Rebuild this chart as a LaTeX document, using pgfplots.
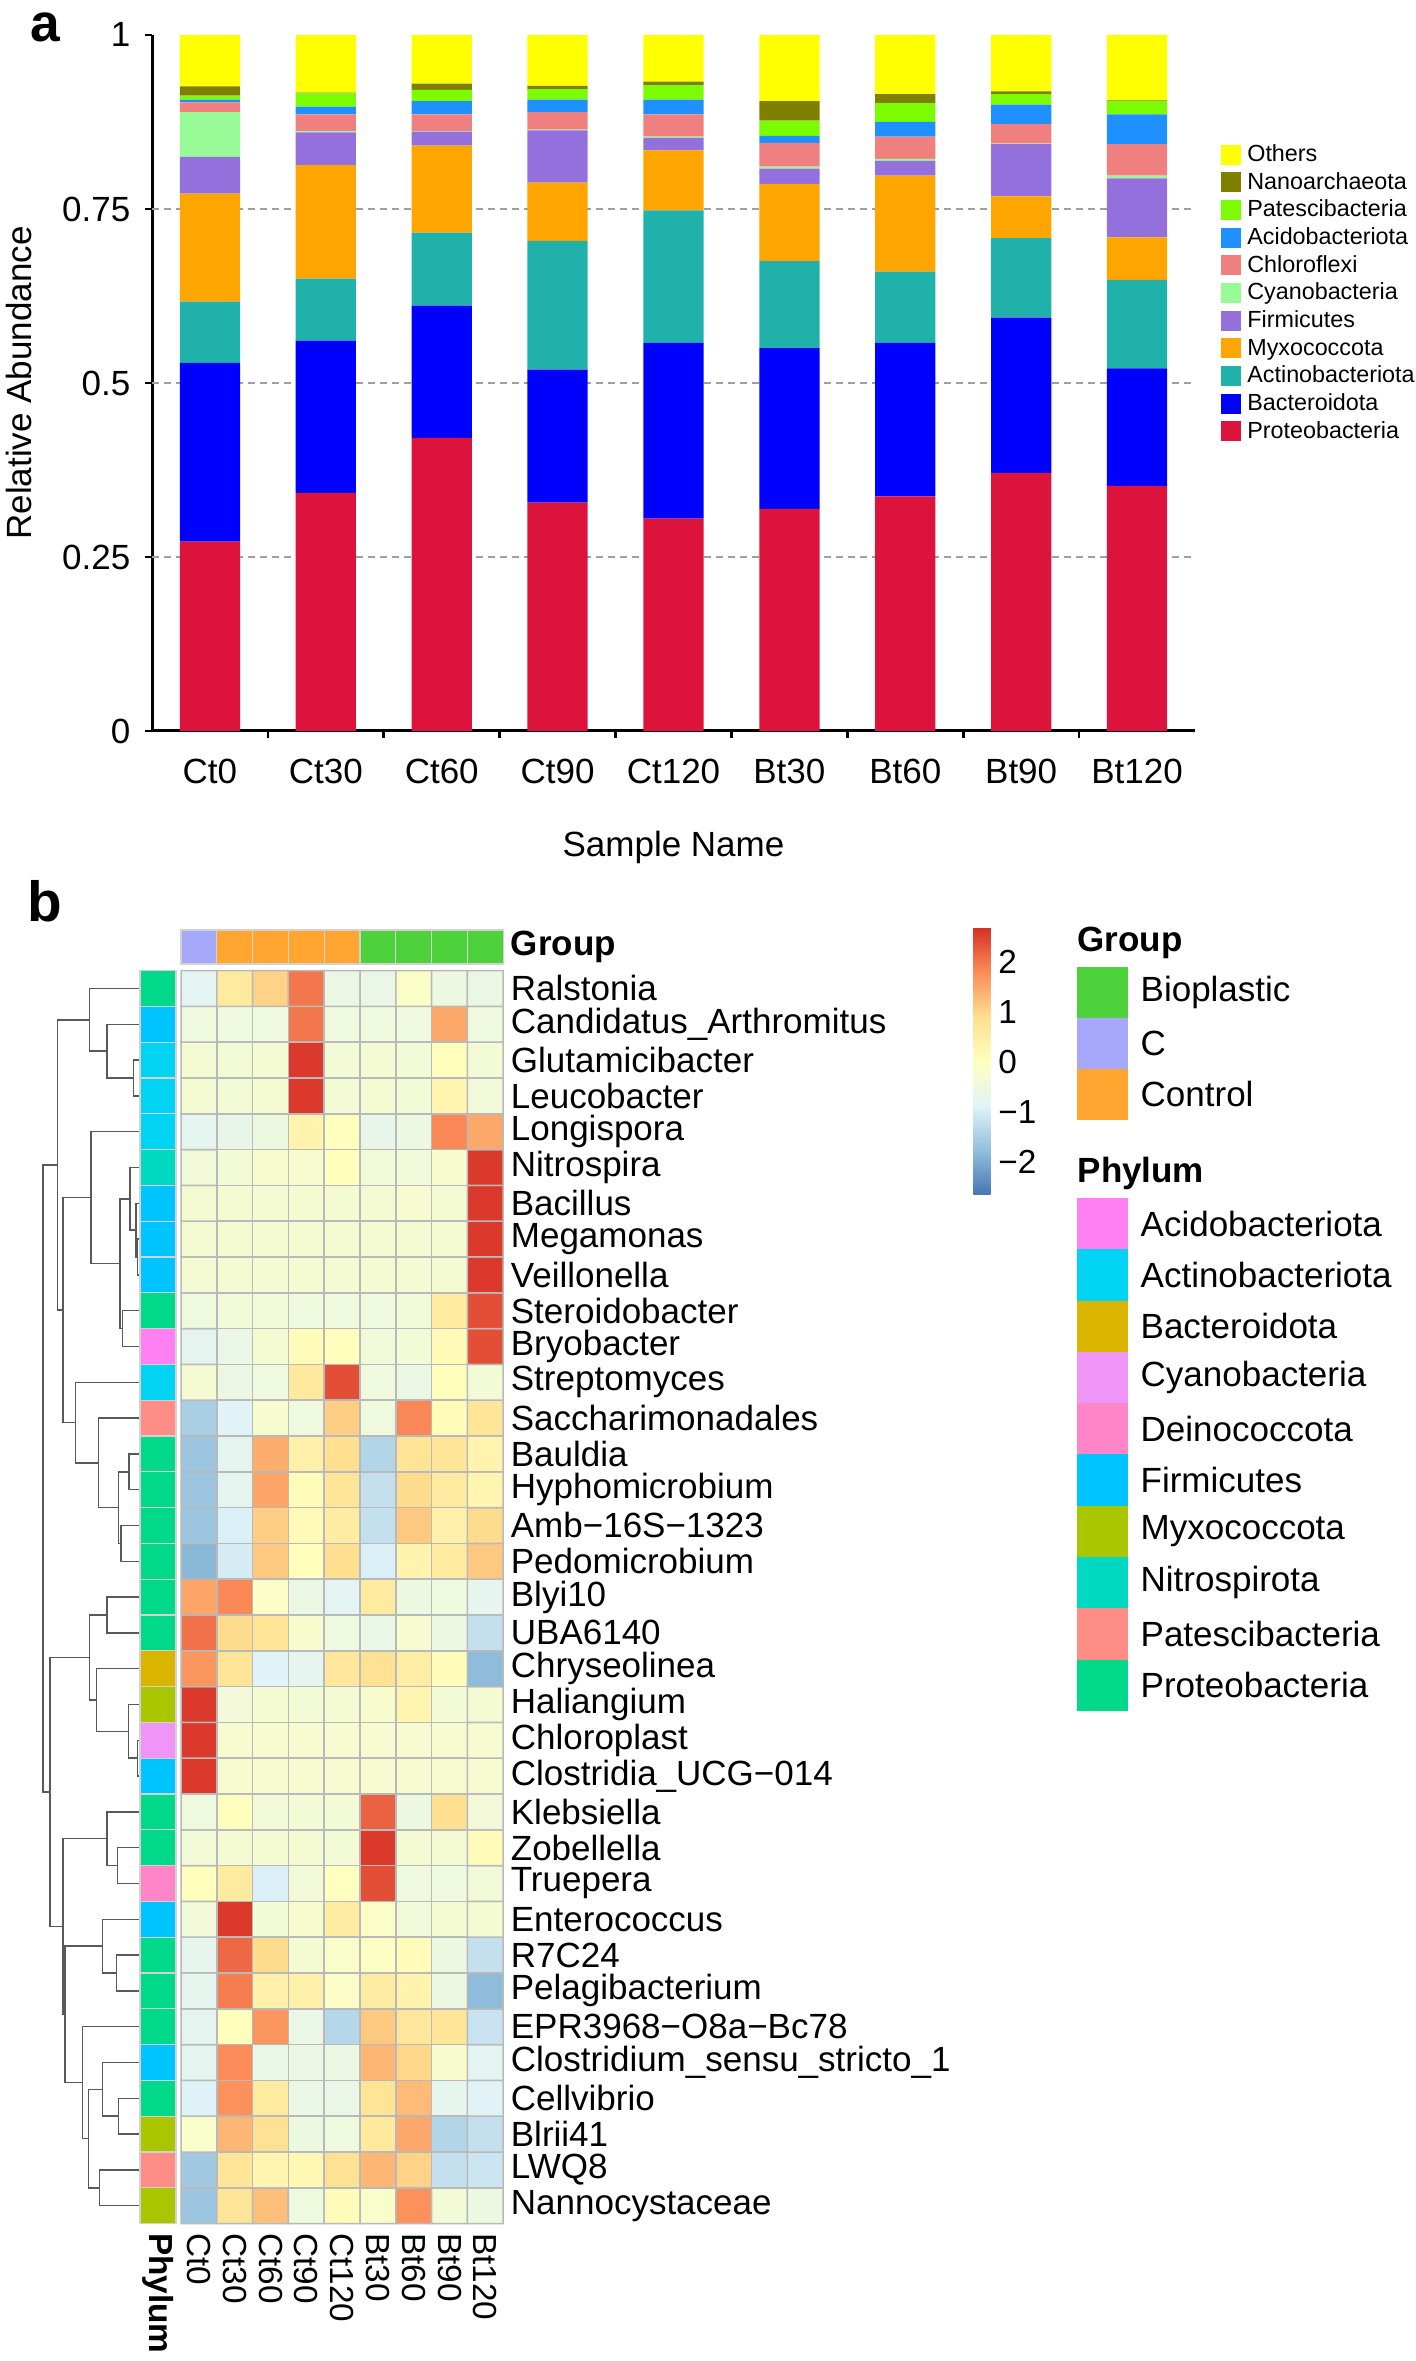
\documentclass[border=0pt]{standalone}
\usepackage{fontspec}
\setmainfont{Liberation Sans}
\usepackage{pgfplots}
\usepackage{pgfplotstable}
\pgfplotsset{compat=1.18}
\pgfplotsset{/pgf/number format/assume math mode=true}

\definecolor{cOth}{HTML}{FFFF00}
\definecolor{cNan}{HTML}{808000}
\definecolor{cPat}{HTML}{7CFC00}
\definecolor{cAci}{HTML}{1E90FF}
\definecolor{cChl}{HTML}{F08080}
\definecolor{cCya}{HTML}{98FB98}
\definecolor{cFir}{HTML}{9370DB}
\definecolor{cMyx}{HTML}{FFA500}
\definecolor{cAct}{HTML}{20B2AA}
\definecolor{cBac}{HTML}{0000FF}
\definecolor{cPro}{HTML}{DC143C}

\definecolor{gBio}{HTML}{4ED23B}
\definecolor{gC}{HTML}{A6A8FC}
\definecolor{gCon}{HTML}{FFA530}
\definecolor{pAci}{HTML}{FF80F2}
\definecolor{pAct}{HTML}{00D4F2}
\definecolor{pBac}{HTML}{D9B500}
\definecolor{pCya}{HTML}{EE95F7}
\definecolor{pDei}{HTML}{FF85C8}
\definecolor{pFir}{HTML}{00C4FF}
\definecolor{pMyx}{HTML}{A9C600}
\definecolor{pNit}{HTML}{00D9C2}
\definecolor{pPat}{HTML}{FE8E85}
\definecolor{pPro}{HTML}{00D98A}

\pgfplotstableread{
x Pro Bac Act Myx Fir Cya Chl Aci Pat Nan Oth
0 0.272 0.257 0.088 0.155 0.053 0.064 0.014 0.004 0.006 0.013 0.074
1 0.342 0.219 0.089 0.163 0.047 0.002 0.024 0.011 0.019 0.001 0.083
2 0.421 0.190 0.105 0.125 0.020 0.001 0.024 0.019 0.016 0.009 0.070
3 0.328 0.191 0.185 0.084 0.075 0.001 0.025 0.018 0.015 0.005 0.073
4 0.305 0.253 0.190 0.086 0.018 0.002 0.032 0.021 0.021 0.005 0.067
5 0.319 0.231 0.125 0.111 0.022 0.003 0.034 0.010 0.022 0.028 0.095
6 0.337 0.221 0.102 0.138 0.021 0.003 0.032 0.021 0.027 0.013 0.085
7 0.371 0.223 0.114 0.060 0.075 0.001 0.028 0.028 0.015 0.004 0.081
8 0.352 0.169 0.127 0.061 0.085 0.004 0.045 0.043 0.019 0.001 0.094
}\abund

% heatmap z-scores: x = column (0 Ct0 ... 8 Bt120), y = row (1 bottom = Nannocystaceae ... 35 top = Ralstonia)
\pgfplotstableread{
x y v
0 1 -1.65
1 1 0.75
2 1 1.25
3 1 -0.45
4 1 0.1
5 1 -0.15
6 1 1.75
7 1 -0.35
8 1 -0.5
0 2 -1.6
1 2 0.75
2 2 0.3
3 2 0.2
4 2 0.85
5 2 1.35
6 2 1.05
7 2 -1.2
8 2 -1.1
0 3 -0.15
1 3 1.35
2 3 0.85
3 3 -0.5
4 3 -0.45
5 3 0.65
6 3 1.5
7 3 -1.4
8 3 -1.2
0 4 -0.9
1 4 1.75
2 4 0.6
3 4 -0.6
4 4 -0.6
5 4 0.8
6 4 1.3
7 4 -0.7
8 4 -0.85
0 5 -0.75
1 5 1.8
2 5 -0.6
3 5 -0.55
4 5 -0.55
5 5 1.35
6 5 1.0
7 5 -0.2
8 5 -0.8
0 6 -0.75
1 6 0.05
2 6 1.7
3 6 -0.6
4 6 -1.35
5 6 1.15
6 6 0.7
7 6 0.75
8 6 -1.15
0 7 -0.7
1 7 1.95
2 7 0.4
3 7 0.4
4 7 -0.1
5 7 0.55
6 7 0.35
7 7 -0.5
8 7 -1.8
0 8 -0.7
1 8 2.15
2 8 0.95
3 8 -0.3
4 8 -0.15
5 8 -0.05
6 8 0.1
7 8 -0.5
8 8 -1.2
0 9 -0.4
1 9 2.6
2 9 -0.35
3 9 -0.2
4 9 0.55
5 9 -0.1
6 9 -0.4
7 9 -0.3
8 9 -0.3
0 10 0.05
1 10 0.6
2 10 -0.95
3 10 -0.4
4 10 0.0
5 10 2.4
6 10 -0.45
7 10 -0.45
8 10 -0.4
0 11 -0.35
1 11 -0.3
2 11 -0.3
3 11 -0.3
4 11 -0.35
5 11 2.6
6 11 -0.3
7 11 -0.3
8 11 0.1
0 12 -0.45
1 12 0.05
2 12 -0.4
3 12 -0.35
4 12 -0.35
5 12 2.2
6 12 -0.5
7 12 0.9
8 12 -0.4
0 13 2.6
1 13 -0.25
2 13 -0.25
3 13 -0.25
4 13 -0.25
5 13 -0.25
6 13 -0.25
7 13 -0.25
8 13 -0.25
0 14 2.6
1 14 -0.25
2 14 -0.25
3 14 -0.25
4 14 -0.25
5 14 -0.25
6 14 -0.25
7 14 -0.25
8 14 -0.25
0 15 2.6
1 15 -0.4
2 15 -0.3
3 15 -0.35
4 15 -0.3
5 15 -0.2
6 15 0.3
7 15 -0.35
8 15 -0.3
0 16 1.7
1 16 0.8
2 16 -0.85
3 16 -0.7
4 16 0.7
5 16 0.85
6 16 0.5
7 16 0.1
8 16 -1.8
0 17 2.05
1 17 0.95
2 17 0.8
3 17 -0.2
4 17 -0.45
5 17 -0.6
6 17 -0.25
7 17 -0.5
8 17 -1.2
0 18 1.55
1 18 1.85
2 18 -0.1
3 18 -0.55
4 18 -0.8
5 18 0.6
6 18 -0.5
7 18 -0.45
8 18 -0.7
0 19 -1.85
1 19 -1.0
2 19 1.15
3 19 0.05
4 19 0.9
5 19 -0.95
6 19 0.35
7 19 0.6
8 19 1.15
0 20 -1.65
1 20 -0.95
2 20 1.1
3 20 0.15
4 20 0.55
5 20 -1.2
6 20 1.15
7 20 0.45
8 20 0.95
0 21 -1.65
1 21 -0.75
2 21 1.55
3 21 0.1
4 21 0.75
5 21 -1.2
6 21 0.95
7 21 0.6
8 21 0.3
0 22 -1.65
1 22 -0.75
2 22 1.45
3 22 0.45
4 22 0.9
5 22 -1.4
6 22 0.8
7 22 0.75
8 22 0.35
0 23 -1.5
1 23 -0.85
2 23 -0.25
3 23 -0.45
4 23 1.1
5 23 -0.45
6 23 1.85
7 23 0.1
8 23 0.75
0 24 -0.3
1 24 -0.55
2 24 -0.45
3 24 0.65
4 24 2.4
5 24 -0.45
6 24 -0.55
7 24 0.05
8 24 -0.35
0 25 -0.75
1 25 -0.6
2 25 -0.3
3 25 0.1
4 25 0.05
5 25 -0.4
6 25 -0.35
7 25 0.15
8 25 2.4
0 26 -0.45
1 26 -0.4
2 26 -0.4
3 26 -0.45
4 26 -0.45
5 26 -0.45
6 26 -0.4
7 26 0.6
8 26 2.4
0 27 -0.3
1 27 -0.3
2 27 -0.3
3 27 -0.3
4 27 -0.3
5 27 -0.3
6 27 -0.3
7 27 -0.3
8 27 2.6
0 28 -0.3
1 28 -0.3
2 28 -0.3
3 28 -0.3
4 28 -0.3
5 28 -0.3
6 28 -0.3
7 28 -0.3
8 28 2.6
0 29 -0.3
1 29 -0.3
2 29 -0.3
3 29 -0.3
4 29 -0.3
5 29 -0.3
6 29 -0.25
7 29 -0.3
8 29 2.6
0 30 -0.4
1 30 -0.35
2 30 -0.2
3 30 -0.25
4 30 0.05
5 30 -0.4
6 30 -0.4
7 30 -0.2
8 30 2.6
0 31 -0.75
1 31 -0.65
2 31 -0.5
3 31 0.35
4 31 0.05
5 31 -0.65
6 31 -0.5
7 31 1.85
8 31 1.5
0 32 -0.3
1 32 -0.35
2 32 -0.3
3 32 2.6
4 32 -0.35
5 32 -0.3
6 32 -0.35
7 32 0.3
8 32 -0.4
0 33 -0.3
1 33 -0.35
2 33 -0.3
3 33 2.6
4 33 -0.35
5 33 -0.3
6 33 -0.35
7 33 0.05
8 33 -0.35
0 34 -0.45
1 34 -0.45
2 34 -0.45
3 34 2.0
4 34 -0.45
5 34 -0.45
6 34 -0.45
7 34 1.5
8 34 -0.45
0 35 -0.8
1 35 0.6
2 35 1.05
3 35 2.0
4 35 -0.55
5 35 -0.6
6 35 -0.1
7 35 -0.5
8 35 -0.55
}\hm

\pgfplotsset{sq/.style={legend image code/.code={\fill[##1] (0pt,-3pt) rectangle (6pt,3pt);}}}

\newcommand\ph[3]{\addplot[fill=#3, draw=gray!35, line width=0.4pt] coordinates {(-1.648,#1) (-0.642,#1) (-0.642,#2) (-1.648,#2)} --cycle;}
\newcommand\gb[3]{\addplot[fill=#3, draw=gray!35, line width=0.4pt] coordinates {(#1,35.684) (#2,35.684) (#2,36.634) (#1,36.634)} --cycle;}
\newcommand\dn[5]{\addplot[black!65, line width=0.45pt] coordinates {(#1,#2) (#3,#2) (#3,#4) (#5,#4)};}

\begin{document}
\begin{tikzpicture}
\useasboundingbox (0,0) rectangle (424.8pt,708.3pt);

\node[inner sep=0pt, font=\bfseries\fontsize{16}{16}\selectfont] at (13.5pt,700pt) {a};
\node[inner sep=0pt, font=\bfseries\fontsize{17}{17}\selectfont] at (13.5pt,437.9pt) {b};

% ---------------- panel a ----------------
\begin{axis}[
  at={(45.6pt,489pt)}, anchor=south west,
  scale only axis, width=312.9pt, height=208.8pt,
  ybar stacked, bar width=0.52,
  xmin=-0.5, xmax=8.5, ymin=0, ymax=1,
  axis x line*=bottom, axis y line*=left,
  axis line style={line width=0.9pt, black},
  tick align=outside,
  xtick={0,...,8},
  xticklabels={Ct0,Ct30,Ct60,Ct90,Ct120,Bt30,Bt60,Bt90,Bt120},
  major x tick style={draw=none},
  minor xtick={0.5,1.5,...,7.5},
  minor x tick style={black, line width=0.8pt},
  minor tick length=2pt,
  major tick length=2pt,
  ytick={0,1},
  extra y ticks={0.25,0.5,0.75},
  extra y tick style={grid=major},
  major grid style={gray!75, dash pattern=on 2pt off 1.6pt, line width=0.6pt},
  ytick style={black, line width=0.8pt},
  tick label style={font=\fontsize{10.5}{12}\selectfont},
  xticklabel shift=3pt,
  yticklabel shift=1pt,
  xlabel={Sample Name}, ylabel={Relative Abundance},
  label style={font=\fontsize{10.5}{12}\selectfont},
  xlabel style={at={(axis description cs:0.5,-0.168)}, anchor=center},
  ylabel style={at={(axis description cs:-0.128,0.5)}, anchor=center},
  reverse legend,
  legend cell align=left,
  legend style={at={(axis description cs:1.024,0.845)}, anchor=north west,
    draw=none, fill=none, font=\fontsize{7}{8}\selectfont,
    inner sep=0pt, row sep=1.6pt, column sep=2pt,
    nodes={inner sep=0pt, text height=5.4pt, text depth=1.3pt, anchor=west}},
]
\addplot[fill=cPro, draw=none, sq] table[x=x, y=Pro] {\abund}; \addlegendentry{Proteobacteria}
\addplot[fill=cBac, draw=none, sq] table[x=x, y=Bac] {\abund}; \addlegendentry{Bacteroidota}
\addplot[fill=cAct, draw=none, sq] table[x=x, y=Act] {\abund}; \addlegendentry{Actinobacteriota}
\addplot[fill=cMyx, draw=none, sq] table[x=x, y=Myx] {\abund}; \addlegendentry{Myxococcota}
\addplot[fill=cFir, draw=none, sq] table[x=x, y=Fir] {\abund}; \addlegendentry{Firmicutes}
\addplot[fill=cCya, draw=none, sq] table[x=x, y=Cya] {\abund}; \addlegendentry{Cyanobacteria}
\addplot[fill=cChl, draw=none, sq] table[x=x, y=Chl] {\abund}; \addlegendentry{Chloroflexi}
\addplot[fill=cAci, draw=none, sq] table[x=x, y=Aci] {\abund}; \addlegendentry{Acidobacteriota}
\addplot[fill=cPat, draw=none, sq] table[x=x, y=Pat] {\abund}; \addlegendentry{Patescibacteria}
\addplot[fill=cNan, draw=none, sq] table[x=x, y=Nan] {\abund}; \addlegendentry{Nanoarchaeota}
\addplot[fill=cOth, draw=none, sq] table[x=x, y=Oth] {\abund}; \addlegendentry{Others}
\end{axis}

% ---------------- panel b ----------------
\begin{axis}[
  at={(54.3pt,417.12pt)}, anchor=north west,
  x=10.74pt, y=10.74pt,
  xmin=-0.5, xmax=8.5, ymin=0.5, ymax=35.5,
  clip=false,
  axis line style={draw=none},
  tick style={draw=none},
  major tick length=0pt,
  xtick={0,...,8},
  xticklabels={Ct0,Ct30,Ct60,Ct90,Ct120,Bt30,Bt60,Bt90,Bt120},
  xticklabel style={rotate=-90, anchor=west, inner sep=0pt, font=\fontsize{10}{12}\selectfont},
  xticklabel shift=2.7pt,
  ytick={1,...,35},
  yticklabels={Nannocystaceae,LWQ8,Blrii41,Cellvibrio,Clostridium\_sensu\_stricto\_1,EPR3968−O8a−Bc78,Pelagibacterium,R7C24,Enterococcus,Truepera,Zobellella,Klebsiella,Clostridia\_UCG−014,Chloroplast,Haliangium,Chryseolinea,UBA6140,Blyi10,Pedomicrobium,Amb−16S−1323,Hyphomicrobium,Bauldia,Saccharimonadales,Streptomyces,Bryobacter,Steroidobacter,Veillonella,Megamonas,Bacillus,Nitrospira,Longispora,Leucobacter,Glutamicibacter,Candidatus\_Arthromitus,Ralstonia},
  yticklabel pos=right,
  yticklabel style={anchor=west, inner sep=0pt, font=\fontsize{10.5}{12}\selectfont},
  yticklabel shift=2.1pt,
  colormap={hm}{rgb255=(69,117,180) rgb255=(145,191,219) rgb255=(224,243,248) rgb255=(255,255,191) rgb255=(254,224,144) rgb255=(252,141,89) rgb255=(215,48,39)},
  point meta min=-2.66, point meta max=2.68,
  colorbar,
  colorbar style={
    at={(parent axis.north east)}, anchor=north west,
    xshift=132.5pt, yshift=12.78pt,
    scale only axis, width=5.2pt, height=80.1pt,
    axis line style={draw=none},
    tick style={draw=none},
    major tick length=0pt,
    ytick={-2,-1,0,1,2}, yticklabels={−2,−1,0,1,2},
    yticklabel style={font=\fontsize{10}{12}\selectfont, anchor=west, inner sep=0pt},
    yticklabel shift=2.1pt,
  },
]
\addplot[matrix plot*, mesh/cols=9, mesh/rows=35, point meta=explicit,
  shader=faceted, faceted color=gray!55, line width=0.45pt]
  table[x=x, y=y, meta=v] {\hm};

% group annotation bar
\gb{-0.5}{0.5}{gC}
\gb{0.5}{1.5}{gCon}
\gb{1.5}{2.5}{gCon}
\gb{2.5}{3.5}{gCon}
\gb{3.5}{4.5}{gCon}
\gb{4.5}{5.5}{gBio}
\gb{5.5}{6.5}{gBio}
\gb{6.5}{7.5}{gBio}
\gb{7.5}{8.5}{gBio}

% phylum annotation strip (top row first)
\ph{34.5}{35.5}{pPro}
\ph{33.5}{34.5}{pFir}
\ph{32.5}{33.5}{pAct}
\ph{31.5}{32.5}{pAct}
\ph{30.5}{31.5}{pAct}
\ph{29.5}{30.5}{pNit}
\ph{28.5}{29.5}{pFir}
\ph{27.5}{28.5}{pFir}
\ph{26.5}{27.5}{pFir}
\ph{25.5}{26.5}{pPro}
\ph{24.5}{25.5}{pAci}
\ph{23.5}{24.5}{pAct}
\ph{22.5}{23.5}{pPat}
\ph{21.5}{22.5}{pPro}
\ph{20.5}{21.5}{pPro}
\ph{19.5}{20.5}{pPro}
\ph{18.5}{19.5}{pPro}
\ph{17.5}{18.5}{pPro}
\ph{16.5}{17.5}{pPro}
\ph{15.5}{16.5}{pBac}
\ph{14.5}{15.5}{pMyx}
\ph{13.5}{14.5}{pCya}
\ph{12.5}{13.5}{pFir}
\ph{11.5}{12.5}{pPro}
\ph{10.5}{11.5}{pPro}
\ph{9.5}{10.5}{pDei}
\ph{8.5}{9.5}{pFir}
\ph{7.5}{8.5}{pPro}
\ph{6.5}{7.5}{pPro}
\ph{5.5}{6.5}{pPro}
\ph{4.5}{5.5}{pFir}
\ph{3.5}{4.5}{pPro}
\ph{2.5}{3.5}{pMyx}
\ph{1.5}{2.5}{pPat}
\ph{0.5}{1.5}{pMyx}

% dendrogram: \dn{h child1}{y child1}{h node}{y child2}{h child2}
\dn{-1.67}{33}{-1.82}{32}{-1.67}
\dn{-1.67}{34}{-2.56}{32.5}{-1.82}
\dn{-1.67}{35}{-3.06}{33.25}{-2.56}
\dn{-1.67}{28}{-1.72}{27}{-1.67}
\dn{-1.67}{29}{-1.76}{27.5}{-1.72}
\dn{-1.67}{30}{-1.93}{28.25}{-1.76}
\dn{-1.67}{26}{-2.13}{25}{-1.67}
\dn{-1.93}{29.125}{-2.21}{25.5}{-2.13}
\dn{-1.67}{31}{-3.02}{27.3125}{-2.21}
\dn{-1.67}{22}{-1.95}{21}{-1.67}
\dn{-1.67}{20}{-2.17}{19}{-1.67}
\dn{-1.95}{21.5}{-2.25}{19.5}{-2.17}
\dn{-1.67}{23}{-2.81}{20.5}{-2.25}
\dn{-1.67}{24}{-3.44}{21.75}{-2.81}
\dn{-3.02}{29.156}{-3.79}{22.875}{-3.44}
\dn{-3.06}{34.125}{-3.95}{26.016}{-3.79}
\dn{-1.67}{18}{-2.56}{17}{-1.67}
\dn{-1.67}{14}{-1.72}{13}{-1.67}
\dn{-1.67}{15}{-1.97}{13.5}{-1.72}
\dn{-1.67}{16}{-2.86}{14.25}{-1.97}
\dn{-2.56}{17.5}{-3.06}{15.125}{-2.86}
\dn{-1.67}{11}{-2.28}{10}{-1.67}
\dn{-1.67}{12}{-2.56}{10.5}{-2.28}
\dn{-1.67}{8}{-2.30}{7}{-1.67}
\dn{-1.67}{9}{-2.69}{7.5}{-2.30}
\dn{-1.67}{4}{-2.25}{3}{-1.67}
\dn{-1.67}{5}{-2.69}{3.5}{-2.25}
\dn{-1.67}{2}{-2.78}{1}{-1.67}
\dn{-2.69}{4.25}{-3.09}{1.5}{-2.78}
\dn{-1.67}{6}{-3.25}{2.875}{-3.09}
\dn{-2.69}{8.25}{-3.74}{4.4375}{-3.25}
\dn{-2.56}{11.25}{-3.79}{6.344}{-3.74}
\dn{-3.06}{16.3125}{-4.16}{8.797}{-3.79}
\dn{-3.95}{30.07}{-4.35}{12.555}{-4.16}

\node[anchor=west, inner sep=0pt, font=\bfseries\fontsize{10.5}{12}\selectfont] at (axis cs:8.696,36.16) {Group};
\node[anchor=west, inner sep=0pt, rotate=-90, font=\bfseries\fontsize{10}{12}\selectfont] at (axis cs:-1.15,0.25) {Phylum};
\end{axis}

% ---------------- heatmap legends ----------------
\node[anchor=west, inner sep=0pt, font=\bfseries\fontsize{10.5}{12}\selectfont] at (323.1pt,425.4pt) {Group};
\fill[gBio] (323.1pt,418.2pt) rectangle (338.4pt,402.9pt);
\fill[gC]   (323.1pt,402.9pt) rectangle (338.4pt,387.6pt);
\fill[gCon] (323.1pt,387.6pt) rectangle (338.4pt,372.3pt);
\begin{scope}[every node/.style={anchor=west, inner sep=0pt, font=\fontsize{10.5}{12}\selectfont}]
\node at (342pt,410.55pt) {Bioplastic};
\node at (342pt,395.25pt) {C};
\node at (342pt,379.95pt) {Control};
\end{scope}

\node[anchor=west, inner sep=0pt, font=\bfseries\fontsize{10.5}{12}\selectfont] at (323.1pt,356.4pt) {Phylum};
\fill[pAci] (323.1pt,348.90pt) rectangle (338.4pt,333.51pt);
\fill[pAct] (323.1pt,333.51pt) rectangle (338.4pt,318.12pt);
\fill[pBac] (323.1pt,318.12pt) rectangle (338.4pt,302.73pt);
\fill[pCya] (323.1pt,302.73pt) rectangle (338.4pt,287.34pt);
\fill[pDei] (323.1pt,287.34pt) rectangle (338.4pt,271.95pt);
\fill[pFir] (323.1pt,271.95pt) rectangle (338.4pt,256.56pt);
\fill[pMyx] (323.1pt,256.56pt) rectangle (338.4pt,241.17pt);
\fill[pNit] (323.1pt,241.17pt) rectangle (338.4pt,225.78pt);
\fill[pPat] (323.1pt,225.78pt) rectangle (338.4pt,210.39pt);
\fill[pPro] (323.1pt,210.39pt) rectangle (338.4pt,195.00pt);
\begin{scope}[every node/.style={anchor=west, inner sep=0pt, font=\fontsize{10.5}{12}\selectfont}]
\node at (342pt,341.2pt) {Acidobacteriota};
\node at (342pt,325.8pt) {Actinobacteriota};
\node at (342pt,310.4pt) {Bacteroidota};
\node at (342pt,295.0pt) {Cyanobacteria};
\node at (342pt,279.6pt) {Deinococcota};
\node at (342pt,264.3pt) {Firmicutes};
\node at (342pt,248.9pt) {Myxococcota};
\node at (342pt,233.5pt) {Nitrospirota};
\node at (342pt,218.1pt) {Patescibacteria};
\node at (342pt,202.7pt) {Proteobacteria};
\end{scope}
\end{tikzpicture}
\end{document}
